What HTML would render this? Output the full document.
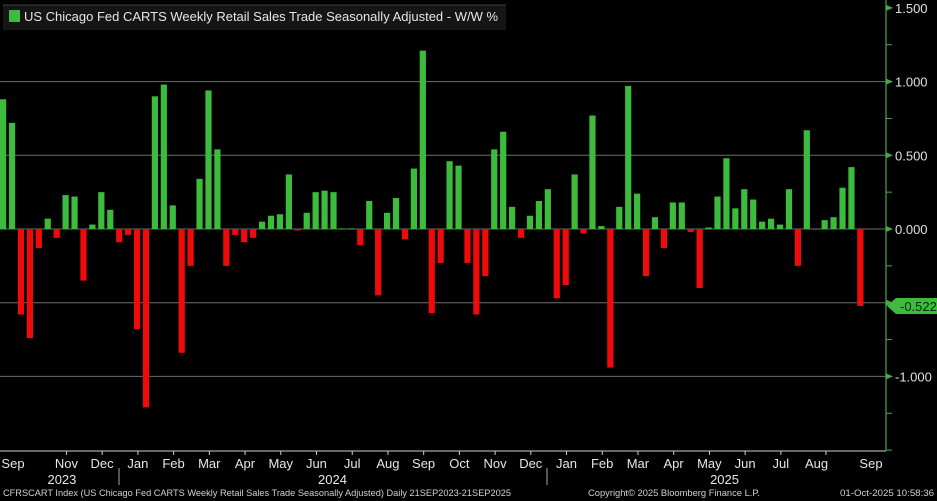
<!DOCTYPE html>
<html><head><meta charset="utf-8"><style>
html,body{margin:0;padding:0;background:#000;}
svg{display:block;font-family:"Liberation Sans",sans-serif;}
</style></head><body>
<svg id="chart" width="937" height="501" viewBox="0 0 937 501" xmlns="http://www.w3.org/2000/svg">
<rect width="937" height="501" fill="#000"/>
<g id="grid"></g>
<g id="bars"></g>
<g id="yaxis"></g>
<g id="xaxis"></g>
<g>
<rect x="3" y="5" width="503" height="25" fill="#151515"/>
<line x1="3" y1="5" x2="506" y2="5" stroke="#444"/>
<rect x="9" y="10" width="11" height="12" fill="#3dbb3d"/>
<text x="24" y="21" fill="#e6e6e6" font-size="13" textLength="474" lengthAdjust="spacingAndGlyphs">US Chicago Fed CARTS Weekly Retail Sales Trade Seasonally Adjusted - W/W %</text>
</g>
<text x="3" y="496" fill="#d0d0d0" font-size="9.5" textLength="508" lengthAdjust="spacingAndGlyphs">CFRSCART Index (US Chicago Fed CARTS Weekly Retail Sales Trade Seasonally Adjusted) Daily 21SEP2023-21SEP2025</text>
<text x="588" y="496" fill="#d0d0d0" font-size="9.5" textLength="172" lengthAdjust="spacingAndGlyphs">Copyright© 2025 Bloomberg Finance L.P.</text>
<text x="840" y="496" fill="#d0d0d0" font-size="9.5" textLength="94" lengthAdjust="spacingAndGlyphs">01-Oct-2025 10:58:36</text>
</svg>
<script>
const values = [0.88,0.72,-0.58,-0.74,-0.13,0.07,-0.06,0.23,0.22,-0.35,
0.03,0.25,0.13,-0.09,-0.04,-0.68,-1.21,0.90,0.98,0.16,
-0.84,-0.25,0.34,0.94,0.54,-0.25,-0.04,-0.09,-0.06,0.05,
0.09,0.10,0.37,-0.01,0.11,0.25,0.26,0.25,0.004,0.004,
-0.11,0.19,-0.45,0.11,0.21,-0.07,0.41,1.21,-0.57,-0.23,
0.46,0.43,-0.23,-0.58,-0.32,0.54,0.66,0.15,-0.06,0.09,
0.19,0.27,-0.47,-0.38,0.37,-0.03,0.77,0.02,-0.94,0.15,
0.97,0.24,-0.32,0.08,-0.13,0.18,0.18,-0.02,-0.40,0.01,
0.22,0.48,0.14,0.27,0.20,0.05,0.07,0.03,0.27,-0.25,
0.67,-0.004,0.06,0.08,0.28,0.42,-0.522];
const yTicks = [1.5,1.0,0.5,0.0,-0.5,-1.0];
const yTickLabels = ["1.500","1.000","0.500","0.000","","-1.000"];
const gridVals = [1.0,0.5,0.0,-0.5,-1.0];
const monthLabels = ["Sep","Nov","Dec","Jan","Feb","Mar","Apr","May","Jun","Jul","Aug","Sep","Oct","Nov","Dec","Jan","Feb","Mar","Apr","May","Jun","Jul","Aug","Sep"];
const monthIdx = [0,7.1,11.1,15.1,19.1,23.1,27.1,31.1,35.1,39.1,43.1,47.1,51.1,55.1,59.1,63.1,67.1,71.1,75.1,79.1,83.1,87.1,91.1,97.2];
const yearLabels = ["2023","2024","2025"];
const yearIdx = [6.6,36.9,80.8];
const lastValue = -0.522;

const NS="http://www.w3.org/2000/svg";
const y0=229, pxPerUnit=147.4;
const yScale=v=>y0-v*pxPerUnit;
const x0=3, pitch=8.93;
const xScale=i=>x0+i*pitch;
function mk(tag,attrs,parent){const e=document.createElementNS(NS,tag);for(const k in attrs)e.setAttribute(k,attrs[k]);parent.appendChild(e);return e;}
const grid=document.getElementById('grid'),bars=document.getElementById('bars'),ya=document.getElementById('yaxis'),xa=document.getElementById('xaxis');
gridVals.forEach(v=>{const l=mk('line',{x1:0,x2:886,y1:yScale(v),y2:yScale(v),stroke:'#6e6e6e','stroke-width':1},grid);

});
values.forEach((v,i)=>{const cx=xScale(i);const top=Math.min(yScale(v),y0),h=Math.max(Math.abs(yScale(v)-y0),0.8);
const r=mk('rect',{x:cx-3,y:top,width:6.2,height:h,fill:v>=0?'#3dbb3d':'#f00a0a'},bars);

});
// y axis
const al=mk('line',{x1:886,x2:886,y1:0,y2:451,stroke:'#4aa84a','stroke-width':1.2},ya);


for(let v=1.5;v>=-1.5;v-=0.25){const t=mk('line',{x1:886,x2:892,y1:yScale(v),y2:yScale(v),stroke:'#4aa84a'},ya);

}
yTicks.forEach((v,i)=>{const y=yScale(v);
const p=mk('path',{d:`M886 ${y-3} L893 ${y} L886 ${y+3}Z`,fill:'#4aa84a'},ya);


if(yTickLabels[i]){const t=mk('text',{x:895,y:y+5,fill:'#e0e0e0','font-size':13},ya);t.textContent=yTickLabels[i];

}});
const by=yScale(lastValue);
const badge=mk('path',{d:`M887 ${by} L896 ${by-8} L937 ${by-8} L937 ${by+8} L896 ${by+8}Z`,fill:'#3dbb3d'},ya);


const bt=mk('text',{x:900,y:by+5,fill:'#0a2a0a','font-size':13},ya);bt.textContent=lastValue.toFixed(3);


// x axis
const xl=mk('line',{x1:0,x2:886,y1:451,y2:451,stroke:'#d0d0d0'},xa);


for(let k=1;k<monthIdx.length-1;k++){const x=(xScale(monthIdx[k])+xScale(monthIdx[k+1]))/2-17.8;
const t=mk('line',{x1:x,x2:x,y1:451,y2:455,stroke:'#d0d0d0'},xa);

}
monthLabels.forEach((m,i)=>{const t=mk('text',{x:xScale(monthIdx[i])+(i===0?10:0),y:468,fill:'#e6e6e6','font-size':13,'text-anchor':'middle'},xa);t.textContent=m;

});
yearLabels.forEach((yv,i)=>{const t=mk('text',{x:xScale(yearIdx[i]),y:484,fill:'#e6e6e6','font-size':13,'text-anchor':'middle'},xa);t.textContent=yv;

});
[119,547].forEach(x=>{const s=mk('line',{x1:x,x2:x,y1:468,y2:485,stroke:'#aaa'},xa);

});
</script>
</body></html>
